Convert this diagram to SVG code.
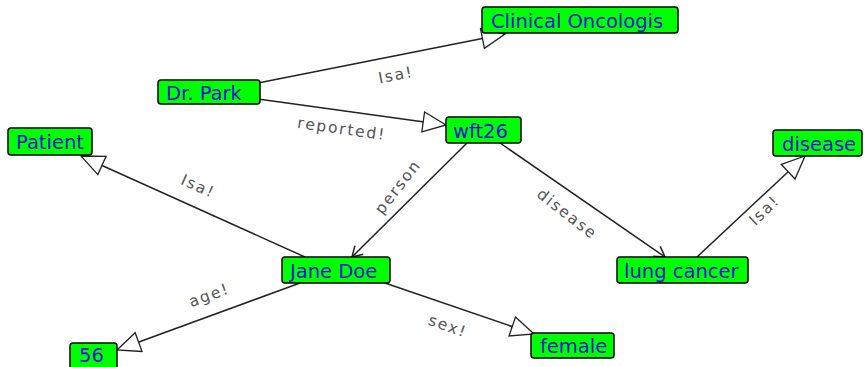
<svg xmlns="http://www.w3.org/2000/svg" width="864" height="367" viewBox="0 0 864 367">
<style>
.node rect{fill:#00ff00;stroke:#000;stroke-width:1.5}
.node text{fill:#1010d8;font-family:"DejaVu Sans",sans-serif;font-size:19.5px}
.edge{stroke:#222;stroke-width:1.5;fill:none}
.lbl{fill:#555;font-family:"DejaVu Sans",sans-serif;font-size:15.5px;letter-spacing:1.8px;text-anchor:middle}
</style>
<defs>
<marker id="tri" markerUnits="userSpaceOnUse" markerWidth="30" markerHeight="24" refX="24" refY="11" orient="auto">
<path d="M1,1 L24,11 L1,21 Z" fill="#fff" stroke="#222" stroke-width="1.3"/>
</marker>
<marker id="vee" markerUnits="userSpaceOnUse" markerWidth="16" markerHeight="16" refX="12" refY="7" orient="auto">
<path d="M2,1 L12,7 L2,13" fill="none" stroke="#222" stroke-width="1.5"/>
</marker>
</defs>
<rect width="864" height="367" fill="#fff"/>
<g id="connectors">
<line class="edge" x1="258" y1="83" x2="505" y2="34" marker-end="url(#tri)"/>
<line class="edge" x1="258" y1="99" x2="446" y2="125" marker-end="url(#tri)"/>
<line class="edge" x1="467" y1="143" x2="352" y2="257" marker-end="url(#vee)"/>
<line class="edge" x1="500" y1="143" x2="665" y2="257" marker-end="url(#vee)"/>
<line class="edge" x1="697" y1="257" x2="805" y2="156" marker-end="url(#tri)"/>
<line class="edge" x1="305" y1="257" x2="81" y2="156" marker-end="url(#tri)"/>
<line class="edge" x1="300" y1="283" x2="117" y2="350" marker-end="url(#tri)"/>
<line class="edge" x1="385" y1="283" x2="534" y2="334" marker-end="url(#tri)"/>
<text class="lbl" transform="translate(397,80) rotate(-11)">Isa!</text>
<text class="lbl" transform="translate(341,134) rotate(8)">reported!</text>
<text class="lbl" transform="translate(402,190) rotate(-52)">person</text>
<text class="lbl" transform="translate(564,218) rotate(38)">disease</text>
<text class="lbl" transform="translate(768,214) rotate(-44)">Isa!</text>
<text class="lbl" transform="translate(196,191) rotate(24)">Isa!</text>
<text class="lbl" transform="translate(211,300) rotate(-20)">age!</text>
<text class="lbl" transform="translate(446,331) rotate(20)">sex!</text>
</g>
<g id="n-clinical" class="node"><rect x="482" y="7" width="196" height="26" rx="3"/><text x="491" y="28">Clinical Oncologis</text></g>
<g id="n-drpark" class="node"><rect x="158" y="80" width="102" height="24" rx="3"/><text x="166" y="100">Dr. Park</text></g>
<g id="n-wft26" class="node"><rect x="446" y="117" width="75" height="26" rx="3"/><text x="453" y="138">wft26</text></g>
<g id="n-patient" class="node"><rect x="8" y="128" width="84" height="27" rx="3"/><text x="16" y="149">Patient</text></g>
<g id="n-disease" class="node"><rect x="773" y="130" width="89" height="26" rx="3"/><text x="782" y="151">disease</text></g>
<g id="n-janedoe" class="node"><rect x="282" y="257" width="108" height="26" rx="3"/><text x="290" y="278">Jane Doe</text></g>
<g id="n-lungcancer" class="node"><rect x="617" y="257" width="131" height="26" rx="3"/><text x="624" y="278">lung cancer</text></g>
<g id="n-56" class="node"><rect x="70" y="343" width="47" height="26" rx="3"/><text x="79" y="362">56</text></g>
<g id="n-female" class="node"><rect x="531" y="333" width="83" height="25" rx="3"/><text x="540" y="353">female</text></g>
</svg>
